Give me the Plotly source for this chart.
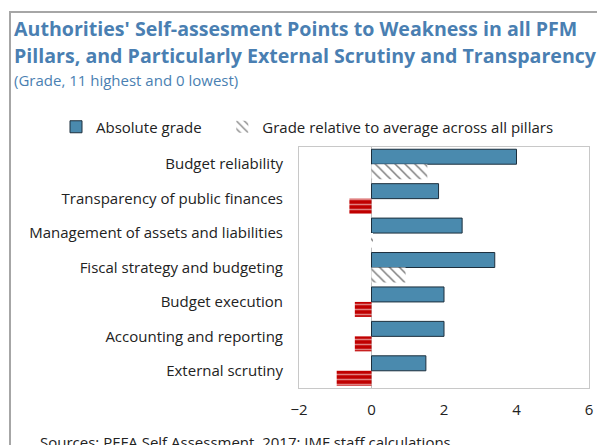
import plotly.graph_objects as go

categories = [
    "Budget reliability",
    "Transparency of public finances",
    "Management of assets and liabilities",
    "Fiscal strategy and budgeting",
    "Budget execution",
    "Accounting and reporting",
    "External scrutiny",
]
absolute_grade = [4.0, 1.85, 2.5, 3.4, 2.0, 2.0, 1.5]
relative_grade = [1.54, -0.61, 0.04, 0.94, -0.46, -0.46, -0.96]
x_ticks = [-2, 0, 2, 4, 6]

OFF = 8  # page body margin
W, H = 605 - OFF, 445 - OFF
# plot area in page pixels: x 299..589, y 147..388
L, R, T, B = 299 - OFF, 605 - 589, 147 - OFF, 445 - 388
PW, PH = W - L - R, H - T - B


def px(x):
    return (x - OFF - L) / PW


def py(y):
    return (H - B - (y - OFF)) / PH


BLUE_T = "#4a7fb2"
FONT = "Open Sans"
TXT = "#222222"

pos_idx = [i for i, v in enumerate(relative_grade) if v >= 0]
neg_idx = [i for i, v in enumerate(relative_grade) if v < 0]

fig = go.Figure()
fig.add_trace(go.Bar(
    y=categories, x=absolute_grade, orientation="h",
    name="Absolute grade\u00a0\u00a0\u00a0\u00a0", offsetgroup="abs",
    marker=dict(color="#4a8aae", line=dict(color="#1c2f3d", width=1)),
))
fig.add_trace(go.Bar(
    y=[categories[i] for i in pos_idx], x=[relative_grade[i] for i in pos_idx],
    orientation="h", offsetgroup="rel",
    name="Grade relative to average across all pillars",
    marker=dict(color="white", line=dict(width=0),
                pattern=dict(shape="\\", fgcolor="#000000", size=7,
                             solidity=0.22, fillmode="overlay")),
))
fig.add_trace(go.Bar(
    y=[categories[i] for i in neg_idx], x=[relative_grade[i] for i in neg_idx],
    orientation="h", offsetgroup="rel", showlegend=False,
    name="Grade relative to average across all pillars",
    marker=dict(color="#c00000", line=dict(width=0),
                pattern=dict(shape="-", fgcolor="white", size=5,
                             solidity=0.3, fillmode="overlay")),
))

fig.update_layout(
    width=W, height=H,
    margin=dict(l=L, r=R, t=T, b=B),
    paper_bgcolor="white", plot_bgcolor="white",
    barmode="group", bargap=0.13, bargroupgap=0,
    font=dict(family=FONT, size=15, color=TXT),
    showlegend=True,
    legend=dict(orientation="h", x=px(56), y=py(127), yanchor="middle",
                xanchor="left", font=dict(size=15, color=TXT),
                bgcolor="rgba(0,0,0,0)", traceorder="normal"),
    xaxis=dict(range=[-2, 6], tickvals=x_ticks, ticks="", showgrid=False,
               zeroline=True, zerolinecolor="#bfbfbf", zerolinewidth=1,
               showline=True, linecolor="#c8c8c8", mirror=True,
               ticklabelstandoff=8, tickfont=dict(size=15, color=TXT)),
    yaxis=dict(autorange="reversed", ticks="", showgrid=False,
               showline=True, linecolor="#c8c8c8", mirror=True,
               ticklabelstandoff=12, tickfont=dict(size=15, color=TXT)),
)

annos = [
    dict(text="<b>Authorities' Self-assesment Points to Weakness in all PFM</b>",
         x=px(12), y=py(28), font=dict(size=19.6, color=BLUE_T)),
    dict(text="<b>Pillars, and Particularly External Scrutiny and Transparency</b>",
         x=px(12), y=py(55), font=dict(size=19.6, color=BLUE_T)),
    dict(text="(Grade, 11 highest and 0 lowest)",
         x=px(12), y=py(80), font=dict(size=15, color=BLUE_T)),
    dict(text="Sources: PEFA Self Assessment, 2017; IMF staff calculations.",
         x=px(38), y=py(442), font=dict(size=15, color=TXT)),
]
for a in annos:
    fig.add_annotation(xref="paper", yref="paper", xanchor="left",
                       yanchor="middle", showarrow=False, **a)

fig.add_shape(type="path", xref="paper", yref="paper",
              path=f"M {px(10)} {py(460)} L {px(10)} {py(12)} L {px(620)} {py(12)}",
              line=dict(color="#a6a6a6", width=2))

fig.write_html("out.html")
